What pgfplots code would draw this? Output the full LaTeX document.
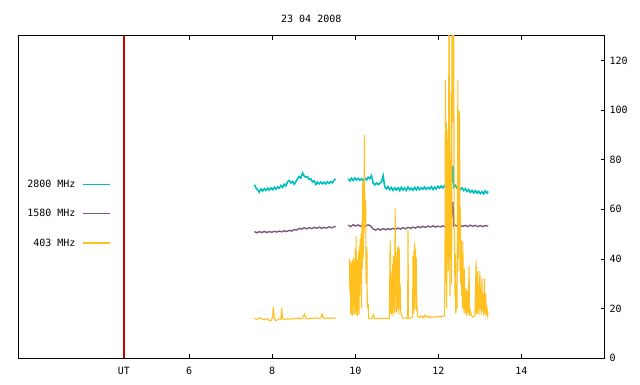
\documentclass[border=0pt]{standalone}
\usepackage{fontspec}
\setmainfont{DejaVu Sans Mono}
\usepackage{pgfplots}
\pgfplotsset{compat=1.18}
\definecolor{ccyan}{RGB}{0,190,190}
\definecolor{cpurp}{RGB}{125,90,125}
\definecolor{corange}{RGB}{255,192,32}
\definecolor{utred}{RGB}{200,0,0}
\begin{document}
\begin{tikzpicture}
\path[use as bounding box] (-18pt,-26pt) rectangle (622pt,358pt);
\begin{axis}[
  at={(0,0)}, anchor=south west,
  scale only axis, width=586.5pt, height=322.3pt,
  xmin=1.88, xmax=16, ymin=0, ymax=130,
  xtick={4.43,6,8,10,12,14}, xticklabels={UT,6,8,10,12,14},
  ytick={0,20,40,60,80,100,120},
  ytick pos=right, yticklabel pos=right,
  xtick pos=both, xticklabel pos=bottom,
  tick align=inside, major tick length=4pt,
  tick style={black, line width=0.6pt},
  axis line style={black, line width=0.8pt},
  /pgf/number format/assume math mode=true,
  ticklabel style={font=\fontsize{10}{12}\selectfont},
  xticklabel style={anchor=center, yshift=-13pt},
  yticklabel style={anchor=west, inner sep=0pt, xshift=4.8pt},
  title={23 04 2008},
  title style={at={(0.5,1)}, anchor=center, yshift=11pt, font=\fontsize{10}{12}\selectfont},
  unbounded coords=jump,
  legend plot pos=right,
  legend cell align=right,
  legend image code/.code={\draw[#1, line width=1.2pt] (0pt,0pt) -- (27pt,0pt);},
  legend style={draw=none, fill=none, at={(0.007,0.566)}, anchor=north west,
    font=\fontsize{10}{12}\selectfont, row sep=16.5pt, column sep=5pt},
]
\addplot[ccyan, line width=1.6pt] coordinates {
(7.57,69.9) (7.61,68.6) (7.65,67.8) (7.69,66.9) (7.73,68.2) (7.77,67.4) (7.81,68.3) (7.85,67.6)
(7.89,68.5) (7.93,67.7) (7.97,68.6) (8.01,67.9) (8.05,68.9) (8.09,68.1) (8.13,69.0) (8.17,68.5)
(8.21,69.6) (8.25,68.8) (8.29,70.1) (8.33,69.4) (8.37,71.0) (8.41,71.6) (8.45,70.6) (8.49,71.2)
(8.53,70.1) (8.57,71.1) (8.61,72.3) (8.65,73.2) (8.69,72.6) (8.73,74.6) (8.77,73.4) (8.81,72.9)
(8.85,73.1) (8.89,72.0) (8.93,72.2) (8.97,71.0) (9.01,71.5) (9.05,70.0) (9.09,70.9) (9.13,70.2)
(9.17,71.0) (9.21,70.3) (9.25,70.9) (9.29,70.2) (9.33,71.1) (9.37,70.4) (9.41,71.2) (9.45,70.6)
(9.49,71.8) (9.53,72.2)
(9.68,nan)
(9.83,72.3) (9.87,71.4) (9.91,72.5) (9.95,71.6) (9.99,72.6) (10.03,71.8) (10.07,72.4) (10.11,71.7)
(10.15,72.3) (10.19,71.6) (10.23,72.5) (10.27,71.8) (10.31,72.9) (10.35,72.4) (10.39,73.6) (10.43,70.5)
(10.47,69.8) (10.51,70.6) (10.55,69.9) (10.59,70.5) (10.63,71.0) (10.67,73.5) (10.71,69.0) (10.75,68.2)
(10.79,69.1) (10.83,67.9) (10.87,68.8) (10.91,67.6) (10.95,68.6) (10.99,67.8) (11.03,68.7) (11.07,67.5)
(11.11,68.9) (11.15,67.8) (11.19,68.6) (11.23,67.6) (11.27,68.9) (11.31,67.9) (11.35,68.5) (11.39,67.7)
(11.43,68.8) (11.47,67.8) (11.51,68.9) (11.55,67.9) (11.59,68.7) (11.63,68.1) (11.67,69.0) (11.71,68.0)
(11.75,68.8) (11.79,68.2) (11.83,69.1) (11.87,68.0) (11.91,68.9) (11.95,68.2) (11.99,69.3) (12.03,68.5)
(12.07,69.4) (12.11,68.6) (12.15,69.5) (12.19,68.7) (12.23,69.6) (12.27,68.8) (12.31,69.8) (12.35,77.5)
(12.37,68.9) (12.41,69.6) (12.45,68.5) (12.49,69.0) (12.53,68.0) (12.57,68.6) (12.61,67.6) (12.65,68.3)
(12.69,67.2) (12.73,67.9) (12.77,66.8) (12.81,67.6) (12.85,66.6) (12.89,67.5) (12.93,66.5) (12.97,67.3)
(13.01,66.3) (13.05,67.1) (13.09,66.2) (13.13,67.4) (13.17,66.5) (13.20,67.2)
};
\addlegendentry{2800 MHz}

\addplot[cpurp, line width=1.4pt] coordinates {
(7.57,51.0) (7.63,50.5) (7.69,51.0) (7.75,50.6) (7.81,51.1) (7.87,50.6) (7.93,51.0) (7.99,50.7)
(8.05,51.1) (8.11,50.8) (8.17,51.2) (8.23,50.9) (8.29,51.3) (8.35,51.0) (8.41,51.5) (8.47,51.2)
(8.53,51.8) (8.59,51.6) (8.65,52.3) (8.71,52.0) (8.77,52.5) (8.83,52.1) (8.89,52.6) (8.95,52.2)
(9.01,52.7) (9.07,52.3) (9.13,52.8) (9.19,52.3) (9.25,52.7) (9.31,52.4) (9.37,52.9) (9.43,52.5)
(9.49,52.9) (9.53,53.1)
(9.68,nan)
(9.83,53.6) (9.89,53.0) (9.95,53.8) (10.01,53.2) (10.07,53.7) (10.13,53.1) (10.19,53.8) (10.25,53.2)
(10.31,53.7) (10.37,53.3) (10.43,52.0) (10.49,51.6) (10.55,52.1) (10.61,51.6) (10.67,52.2) (10.73,51.7)
(10.79,52.2) (10.85,51.8) (10.91,52.3) (10.97,51.9) (11.03,52.4) (11.09,52.0) (11.15,52.6) (11.21,52.1)
(11.27,52.7) (11.33,52.3) (11.39,52.8) (11.45,52.4) (11.51,53.0) (11.57,52.6) (11.63,53.1) (11.69,52.7)
(11.75,53.2) (11.81,52.8) (11.87,53.3) (11.93,52.8) (11.99,53.2) (12.05,52.9) (12.11,53.3) (12.17,52.9)
(12.23,53.4) (12.29,53.0) (12.35,63.0) (12.37,53.2) (12.41,53.6) (12.47,53.0) (12.53,53.5) (12.59,53.1)
(12.65,53.5) (12.71,53.0) (12.77,53.6) (12.83,53.1) (12.89,53.5) (12.95,53.0) (13.01,53.4) (13.07,53.0)
(13.13,53.4) (13.20,53.2)
};
\addlegendentry{1580 MHz}

\addplot[corange, line width=1.1pt] coordinates {
(7.57,16.0) (7.63,15.6) (7.69,16.2) (7.75,15.8) (7.81,15.4) (7.87,15.9) (7.93,15.2) (7.97,15.0)
(8.01,16.5) (8.03,20.7) (8.05,16.0) (8.09,15.0) (8.13,15.4) (8.17,15.8) (8.21,15.6) (8.23,20.1)
(8.25,15.8) (8.31,15.5) (8.37,15.9) (8.43,15.6) (8.49,16.0) (8.55,15.7) (8.61,16.1) (8.67,15.8)
(8.73,16.0) (8.78,17.7) (8.81,16.0) (8.87,15.8) (8.93,16.1) (8.99,15.9) (9.05,16.2) (9.11,16.0)
(9.17,16.2) (9.20,17.7) (9.23,16.1) (9.29,15.9) (9.35,16.3) (9.41,16.0) (9.47,16.2) (9.53,16.0)
(9.68,nan)
(9.86,40.0) (9.87,26.5) (9.88,38.5) (9.89,17.5) (9.90,39.0) (9.91,18.0) (9.92,38.0) (9.93,17.0)
(9.94,39.5) (9.95,22.0) (9.96,40.5) (9.97,17.5) (9.98,39.0) (9.99,18.0) (10.00,44.0) (10.01,20.0)
(10.02,49.2) (10.03,17.5) (10.04,38.0) (10.05,17.0) (10.06,40.0) (10.07,19.0) (10.08,43.0) (10.09,17.5)
(10.10,45.0) (10.11,25.0) (10.12,48.0) (10.13,30.0) (10.14,50.3) (10.15,20.0) (10.16,55.0) (10.17,36.0)
(10.18,71.0) (10.19,40.0) (10.20,68.0) (10.21,50.0) (10.22,90.0) (10.23,55.0) (10.25,63.6) (10.26,30.0)
(10.28,44.7) (10.29,20.0) (10.31,22.0) (10.32,16.0)
(10.36,15.8) (10.40,16.1) (10.44,17.5) (10.46,16.0) (10.52,15.9) (10.58,16.1) (10.64,15.8) (10.70,16.0)
(10.76,15.9) (10.82,16.1)
(10.84,47.4) (10.85,18.0) (10.86,35.0) (10.87,17.5) (10.88,28.0) (10.89,18.0) (10.90,38.0) (10.91,17.0)
(10.92,41.3) (10.93,20.0) (10.94,36.0) (10.95,18.0) (10.96,60.3) (10.97,25.0) (10.98,43.0) (10.99,18.5)
(11.00,40.0) (11.01,20.0) (11.02,44.5) (11.03,19.0) (11.04,45.0) (11.05,17.5) (11.06,44.0) (11.07,20.0)
(11.08,30.0) (11.09,21.0) (11.10,18.0) (11.12,17.0) (11.15,16.0)
(11.20,16.2) (11.26,16.0) (11.27,51.5) (11.28,16.0) (11.32,16.1)
(11.38,16.5) (11.39,41.0) (11.40,18.0) (11.41,43.4) (11.42,20.0) (11.43,46.4) (11.44,25.0) (11.45,44.0)
(11.46,19.0) (11.47,40.5) (11.48,22.0) (11.50,17.0)
(11.55,16.3) (11.60,17.0) (11.64,16.2) (11.68,17.3) (11.72,16.4) (11.76,16.9) (11.80,16.2) (11.86,16.6)
(11.92,16.4) (11.98,16.8) (12.04,16.6) (12.10,16.8) (12.14,17.0)
(12.15,17.0) (12.16,40.0) (12.17,112.0) (12.18,30.0) (12.19,95.0) (12.20,20.0) (12.21,88.0) (12.22,45.0)
(12.23,92.0) (12.24,35.0) (12.25,110.0) (12.26,140.0) (12.27,60.0) (12.28,25.0) (12.29,80.0) (12.30,40.0)
(12.31,107.0) (12.32,30.0) (12.33,140.0) (12.34,140.0) (12.35,95.0) (12.36,140.0) (12.37,140.0) (12.38,60.0)
(12.39,46.0) (12.40,25.0) (12.41,42.0) (12.42,18.0) (12.43,20.0) (12.44,30.0) (12.45,20.0) (12.46,60.0)
(12.47,112.0) (12.48,40.0) (12.49,100.0) (12.50,35.0) (12.51,99.0) (12.52,50.0) (12.53,61.0) (12.54,30.0)
(12.55,47.4) (12.56,25.0) (12.57,32.0) (12.58,20.0) (12.59,47.0) (12.60,22.0) (12.61,26.0) (12.62,18.0)
(12.63,36.0) (12.64,19.0) (12.65,26.0) (12.66,18.0) (12.67,28.0) (12.68,17.0) (12.70,27.0) (12.72,18.0)
(12.74,37.3) (12.75,17.0) (12.77,19.0) (12.80,17.0) (12.84,16.5) (12.88,17.0) (12.91,39.3) (12.92,17.5)
(12.93,30.0) (12.94,18.0) (12.95,35.0) (12.96,20.0) (12.97,30.0) (12.98,17.5) (13.00,35.0) (13.01,20.0)
(13.02,28.0) (13.03,17.5) (13.05,32.0) (13.06,19.0) (13.08,26.0) (13.09,17.0) (13.11,32.0) (13.12,18.0)
(13.14,26.0) (13.15,17.0) (13.17,20.0) (13.19,17.0) (13.20,18.0)
};
\addlegendentry{403 MHz}

\addplot[utred, line width=1.4pt, forget plot] coordinates {(4.43,0) (4.43,130)};
\end{axis}
\end{tikzpicture}
\end{document}
